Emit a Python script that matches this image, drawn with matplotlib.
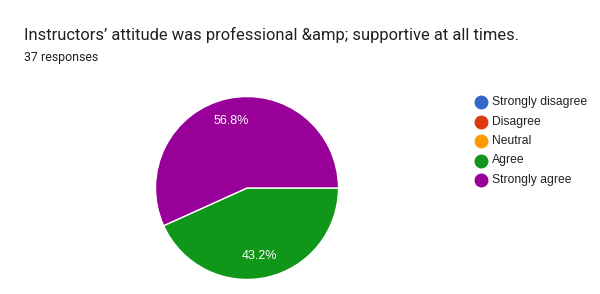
import matplotlib
matplotlib.use("Agg")
import matplotlib.pyplot as plt
from matplotlib.lines import Line2D

plt.rcParams['font.family'] = ['Roboto', 'DejaVu Sans']

title = "Instructors’ attitude was professional &amp; supportive at all times."
subtitle = "37 responses"
categories = ["Strongly disagree", "Disagree", "Neutral", "Agree", "Strongly agree"]
counts = [0, 0, 0, 16, 21]
colors = ["#3366cc", "#dc3912", "#ff9900", "#109618", "#990099"]

W, H = 600, 294
fig = plt.figure(figsize=(W / 100, H / 100), dpi=100)

fig.text(24 / W, 1 - 35 / H, title, fontsize=11.9, color="#202124", va="center", ha="left")
fig.text(24 / W, 1 - 57 / H, subtitle, fontsize=8.9, color="#202124", va="center", ha="left")

# pie axes, centre (247,188), radius ~91 px
cx, cy, r = 247, 188, 91.5
ax = fig.add_axes([(cx - r) / W, (H - cy - r) / H, 2 * r / W, 2 * r / H])


def pct(p):
    return f"{p:.1f}%" if p > 0 else ""


wedges, texts, autotexts = ax.pie(
    counts, colors=colors, startangle=0, counterclock=False,
    autopct=pct, pctdistance=0.75,
    wedgeprops=dict(edgecolor="white", linewidth=1),
    textprops=dict(color="white", fontsize=9, family=["Liberation Sans", "DejaVu Sans"]),
)
autotexts[4].set_position((-0.17, 0.73))
autotexts[3].set_position((0.14, -0.74))
ax.set_xlim(-1, 1)
ax.set_ylim(-1, 1)
ax.axis("off")

# legend
for i, (cat, col) in enumerate(zip(categories, colors)):
    y = 1 - (102 + i * 19.5) / H
    fig.add_artist(Line2D([481 / W], [y], marker="o", markersize=9,
                          markerfacecolor=col, markeredgecolor=col, linestyle="none"))
    fig.text(492 / W, y, cat, fontsize=8.7, color="#202124", va="center", ha="left",
             family=["Liberation Sans", "DejaVu Sans"])

fig.savefig("out.png", dpi=100)
